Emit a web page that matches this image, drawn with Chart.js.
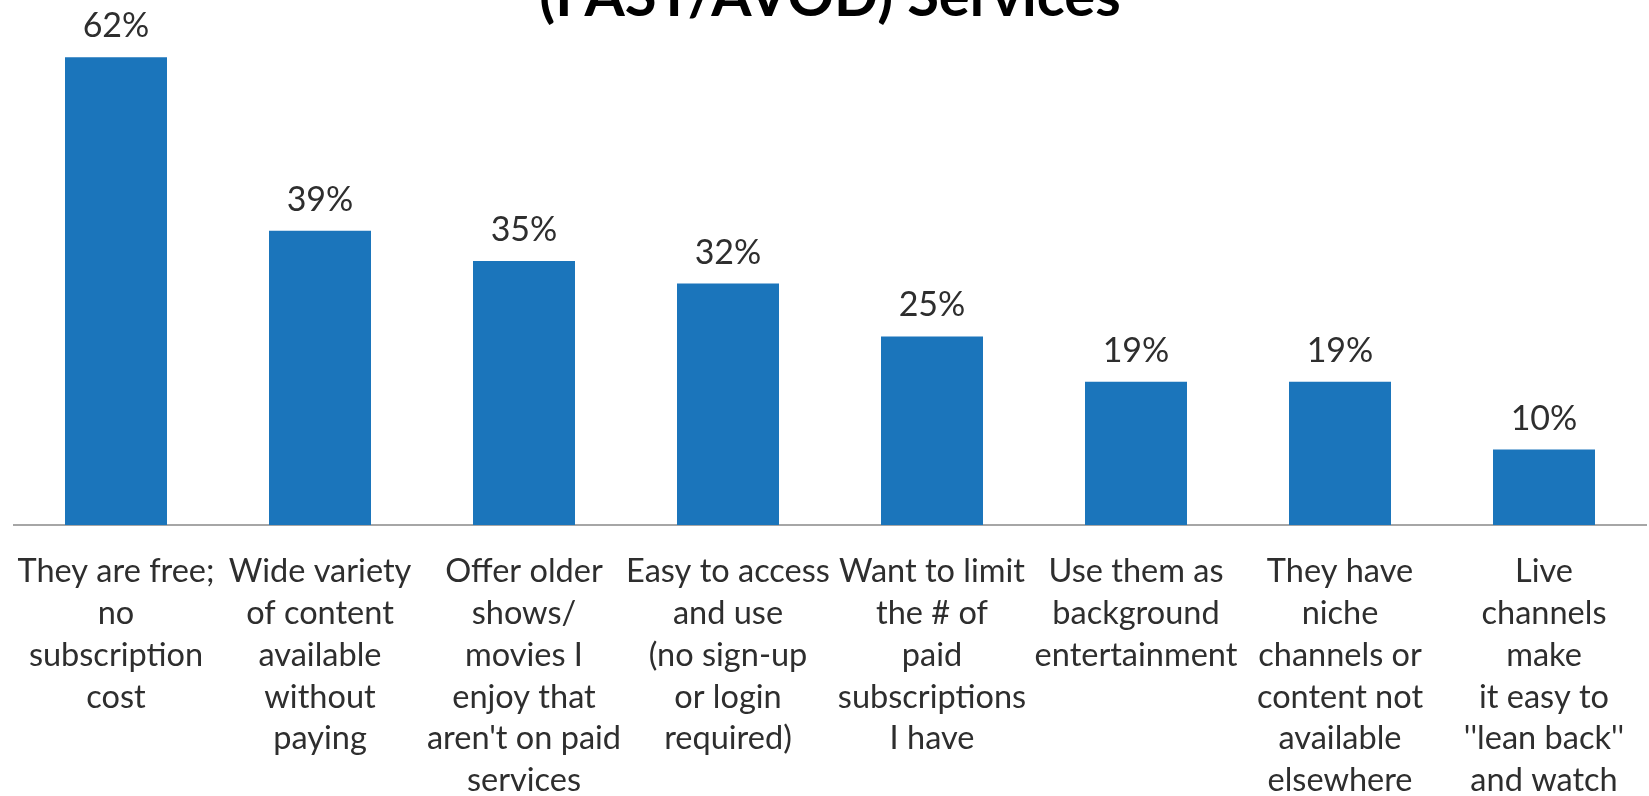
<!DOCTYPE html>
<html>
<head>
<meta charset="utf-8">
<script src="https://cdn.jsdelivr.net/npm/chart.js@4/dist/chart.umd.min.js"></script>
<style>
  html, body { margin: 0; padding: 0; background: #fff; overflow: hidden; }
  #wrap { position: absolute; left: 0; top: -38px; width: 1649px; height: 865px; }
</style>
</head>
<body>
<div id="wrap"><canvas id="chart"></canvas></div>
<script>
'use strict';

// Reasons given for using free ad-supported services
const reasons = [
    ['They are free;', 'no', 'subscription', 'cost'],
    ['Wide variety', 'of content', 'available', 'without', 'paying'],
    ['Offer older', 'shows/', 'movies I', 'enjoy that', "aren't on paid", 'services'],
    ['Easy to access', 'and use', '(no sign-up', 'or login', 'required)'],
    ['Want to limit', 'the # of', 'paid', 'subscriptions', 'I have'],
    ['Use them as', 'background', 'entertainment'],
    ['They have', 'niche', 'channels or', 'content not', 'available', 'elsewhere'],
    ['Live', 'channels', 'make', 'it easy to', "''lean back''", 'and watch']
];
const shares = [62, 39, 35, 32, 25, 19, 19, 10];

const barColor = '#1b75bb';
const textColor = '#2e2e2e';
const fontFamily = 'Lato, "Open Sans", sans-serif';

// Writes the percentage above each bar
const valueLabels = {
    id: 'valueLabels',
    afterDatasetsDraw(chart) {
        const ctx = chart.ctx;
        const meta = chart.getDatasetMeta(0);
        ctx.save();
        ctx.font = '34px ' + fontFamily;
        ctx.fillStyle = textColor;
        ctx.textAlign = 'center';
        ctx.textBaseline = 'alphabetic';
        meta.data.forEach((bar, i) => {
            ctx.fillText(shares[i] + '%', bar.x, bar.y - 20);
        });
        ctx.restore();
    }
};

new Chart(document.getElementById('chart'), {
    type: 'bar',
    data: {
        labels: reasons,
        datasets: [{
            data: shares,
            backgroundColor: barColor,
            categoryPercentage: 1,
            barPercentage: 0.5
        }]
    },
    options: {
        responsive: true,
        maintainAspectRatio: false,
        animation: false,
        layout: { padding: { left: 14, right: 3, top: 0, bottom: 0 } },
        plugins: {
            legend: { display: false },
            tooltip: { enabled: false },
            title: {
                display: true,
                text: '(FAST/AVOD) Services',
                color: '#000',
                font: { family: fontFamily, size: 58, weight: 'bold' },
                padding: { top: 0, bottom: 0 }
            }
        },
        scales: {
            x: {
                grid: { display: false, drawTicks: false },
                border: { display: true, color: '#a6a6a6', width: 2 },
                ticks: {
                    color: textColor,
                    font: { family: fontFamily, size: 32.5, lineHeight: 1.292 },
                    padding: 25,
                    autoSkip: false,
                    maxRotation: 0
                },
                // the wide outer labels may hang past the plot edges
                afterFit(scale) {
                    scale.paddingLeft = 0;
                    scale.paddingRight = 0;
                }
            },
            y: {
                display: false,
                min: 0,
                max: 65.4
            }
        }
    },
    plugins: [valueLabels]
});
</script>
</body>
</html>
